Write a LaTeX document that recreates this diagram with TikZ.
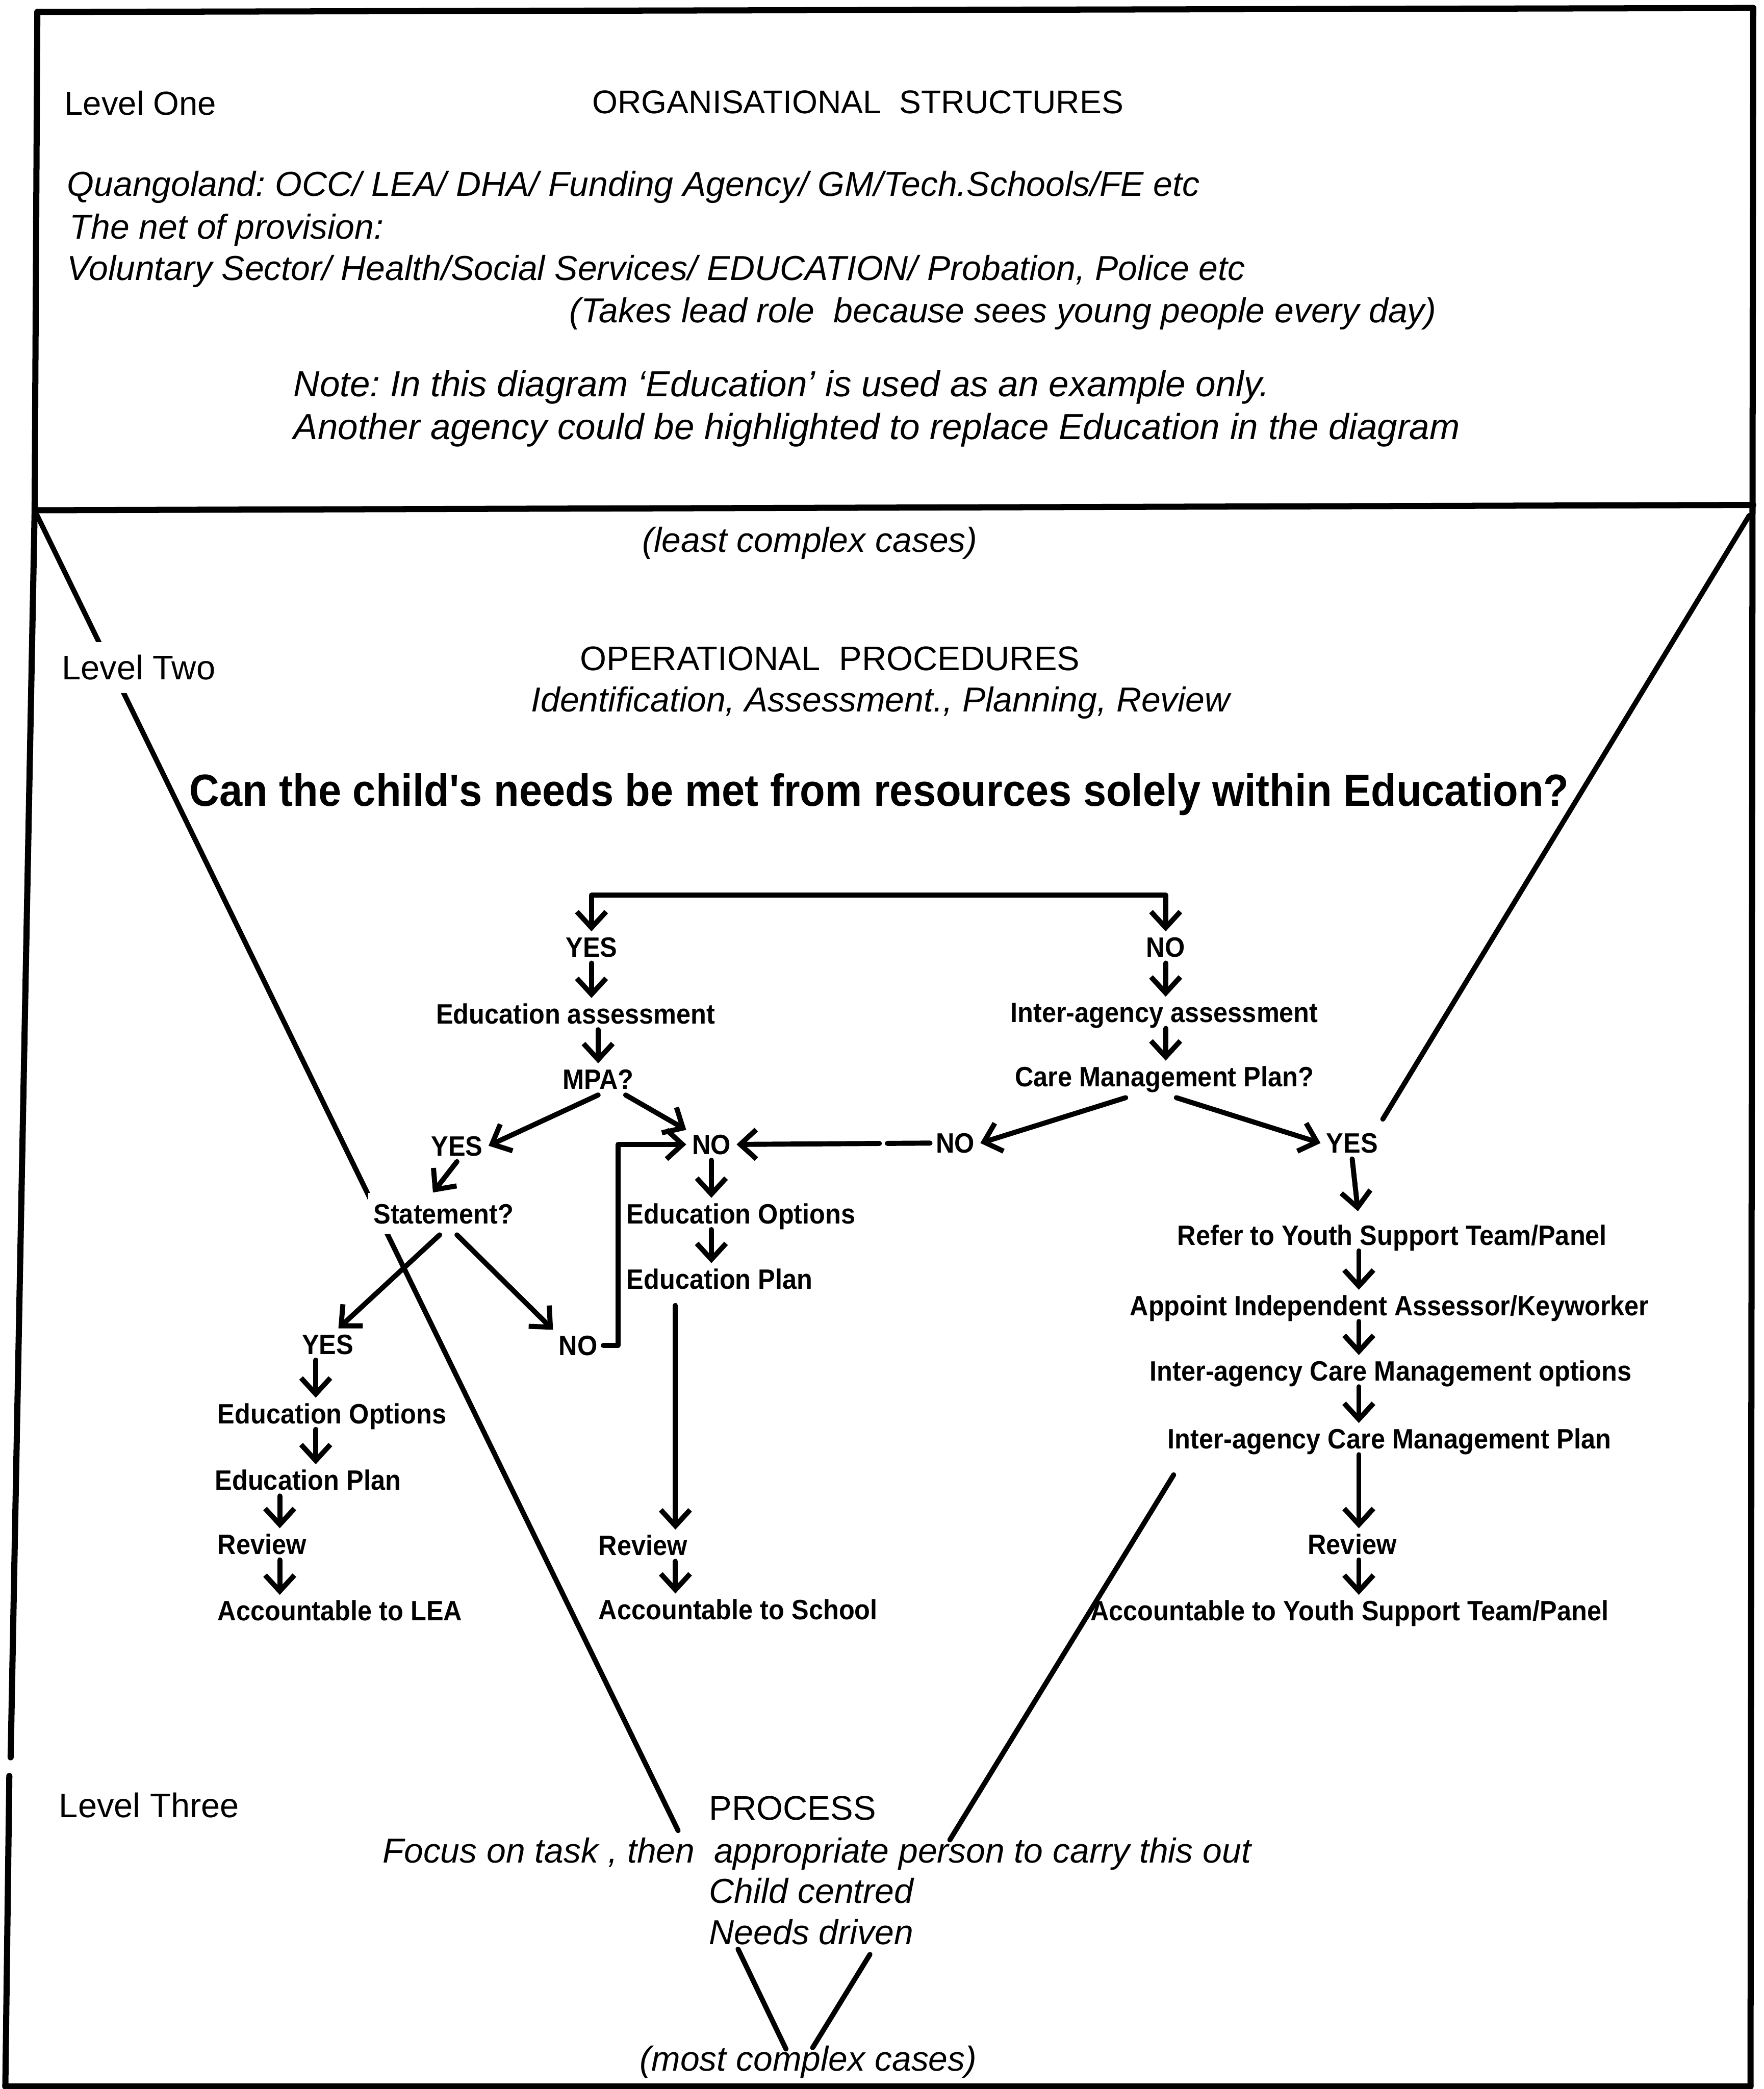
\documentclass[tikz,border=0pt]{standalone}
\usepackage{fontspec}
\setmainfont{Liberation Sans}
\newfontfamily\flowfont[FakeStretch=0.92]{Liberation Sans}
\usetikzlibrary{arrows.meta}
\frenchspacing

\begin{document}
\begin{tikzpicture}[x=0.5pt,y=-0.5pt,
  frameline/.style={line width=2.3pt, line cap=round},
  funnel/.style={line width=1.9pt, line cap=round},
  txhead/.style={font=\fontsize{12.8}{15}\selectfont, inner sep=0pt, text height=9.2pt, text depth=0pt, anchor=west},
  txital/.style={font=\fontsize{13}{15}\selectfont\itshape, inner sep=0pt, text height=9.3pt, text depth=0pt, anchor=west},
  txnote/.style={font=\fontsize{13.6}{16}\selectfont\itshape, inner sep=0pt, text height=9.8pt, text depth=0pt, anchor=west},
  txquest/.style={font=\flowfont\bfseries\fontsize{16.9}{20}\selectfont, inner sep=0pt, text height=12.1pt, text depth=0pt},
  flowtxt/.style={font=\flowfont\bfseries\fontsize{10.5}{12}\selectfont, inner sep=2pt, text height=7.5pt, text depth=0pt},
  arr/.style={line width=1.9pt, line cap=round, line join=round, -{Straight Barb[length=6pt,width=11pt]}},
  arrboth/.style={line width=1.9pt, line cap=round, line join=round, {Straight Barb[length=6pt,width=11pt]}-{Straight Barb[length=6pt,width=11pt]}}
]
\useasboundingbox (0,0) rectangle (1324,1568);

% outer frame and the band of level one
\coordinate (tl) at (28,9);
\coordinate (tr) at (1316,6);
\coordinate (ml) at (26,383);
\coordinate (mr) at (1316,379);
\coordinate (bl) at (4,1566);
\coordinate (br) at (1314,1566);
\coordinate (gapT) at (8,1319);
\coordinate (gapB) at (7,1333);
\draw[frameline] (tl) -- (tr);
\draw[frameline] (tl) -- (ml);
\draw[frameline] (ml) -- (mr);
\draw[frameline] (tr) -- (br);
\draw[frameline] (ml) -- (gapT);
\draw[frameline] (gapB) -- (bl);
\draw[frameline] (bl) -- (br);

% funnel from least to most complex cases
\coordinate (fLend) at (509,1374);
\coordinate (fRtop) at (1313,387);
\coordinate (fRend) at (1038,840);
\coordinate (fR2top) at (881,1107);
\coordinate (fR2end) at (713,1381);
\coordinate (vLtop) at (554,1463);
\coordinate (vLend) at (590,1538);
\coordinate (vRtop) at (653,1467);
\coordinate (vRend) at (610,1537);
\draw[funnel] (ml) -- (fLend);
\draw[funnel] (fRtop) -- (fRend);
\draw[funnel] (fR2top) -- (fR2end);
\draw[funnel] (vLtop) -- (vLend);
\draw[funnel] (vRtop) -- (vRend);

% level one
\node[txhead, font=\fontsize{12.5}{15}\selectfont] (lvl1) at (48,77) {Level One};
\node[txhead, anchor=center, font=\fontsize{12.3}{15}\selectfont] (org) at (644,76) {ORGANISATIONAL\ \ STRUCTURES};
\node[txital] (quango) at (50,138) {Quangoland: OCC/ LEA/ DHA/ Funding Agency/ GM/Tech.Schools/FE etc};
\node[txital] (net) at (52,170) {The net of provision:};
\node[txital] (vol) at (50,201) {Voluntary Sector/ Health/Social Services/ EDUCATION/ Probation, Police etc};
\node[txital] (lead) at (427,233) {(Takes lead role\ \ because sees young people every day)};
\node[txnote] (note1) at (220,288) {Note: In this diagram ‘Education’ is used as an example only.};
\node[txnote] (note2) at (220,320) {Another agency could be highlighted to replace Education in the diagram};

% level two
\node[txital, anchor=center] (least) at (608,405) {(least complex cases)};
\node[txhead, fill=white, inner ysep=5pt] (lvl2) at (46,501) {Level Two};
\node[txhead, anchor=center] (ops) at (623,494) {OPERATIONAL\ \ PROCEDURES};
\node[txital, anchor=center] (iapr) at (661,525) {Identification, Assessment., Planning, Review};
\node[txquest] (question) at (660,593) {Can the child's needs be met from resources solely within Education?};

% decision flow
\node[flowtxt] (yes1) at (444,711) {YES};
\node[flowtxt] (no1) at (875,711) {NO};
\node[flowtxt] (eduass) at (432,761) {Education assessment};
\node[flowtxt] (mpa) at (449,810) {MPA?};
\node[flowtxt] (iaa) at (874,760) {Inter-agency assessment};
\node[flowtxt] (cmp) at (874,808) {Care Management Plan?};
\node[flowtxt] (yes2) at (343,860) {YES};
\node[flowtxt] (no2) at (534,859) {NO};
\node[flowtxt] (no3) at (717,858) {NO};
\node[flowtxt] (yes3) at (1015,858) {YES};
\node[flowtxt, fill=white, inner ysep=4pt] (stmt) at (333,911) {Statement?};
\node[flowtxt, anchor=west] (eo1) at (466,911) {Education Options};
\node[flowtxt, anchor=west] (ep1) at (466,960) {Education Plan};
\node[flowtxt] (yes4) at (246,1009) {YES};
\node[flowtxt] (no4) at (434,1010) {NO};
\node[flowtxt, anchor=west] (eo2) at (159,1061) {Education Options};
\node[flowtxt, anchor=west] (ep2) at (157,1111) {Education Plan};
\node[flowtxt, anchor=west] (rev2) at (159,1159) {Review};
\node[flowtxt, anchor=west] (acc2) at (159,1209) {Accountable to LEA};
\node[flowtxt, anchor=west] (rev1) at (445,1160) {Review};
\node[flowtxt, anchor=west] (acc1) at (445,1208) {Accountable to School};
\node[flowtxt] (ref) at (1045,927) {Refer to Youth Support Team/Panel};
\node[flowtxt] (app) at (1043,980) {Appoint Independent Assessor/Keyworker};
\node[flowtxt] (iacmo) at (1044,1029) {Inter-agency Care Management options};
\node[flowtxt] (iacmp) at (1043,1080) {Inter-agency Care Management Plan};
\node[flowtxt] (rev3) at (1015,1159) {Review};
\node[flowtxt] (acc3) at (1013,1209) {Accountable to Youth Support Team/Panel};

% level three
\node[txhead] (lvl3) at (44,1355) {Level Three};
\node[txhead] (process) at (532,1357) {PROCESS};
\node[txital] (focus) at (287,1389) {Focus on task , then\ \ appropriate person to carry this out};
\node[txital] (child) at (532,1419) {Child centred};
\node[txital] (needs) at (532,1450) {Needs driven};
\node[txital] (most) at (480,1545) {(most complex cases)};

% connectors
\coordinate (bar) at (660,672);
\coordinate (elbow) at (464,1010);
\coordinate (colM) at (507,0);
\coordinate (colA) at (237,0);
\coordinate (colB) at (210,0);
\coordinate (colR) at (1020,0);

\draw[arrboth] (yes1.north) |- (bar) -| (no1.north);
\draw[arr] (yes1.south) -- (yes1.south |- eduass.north);
\draw[arr] (eduass.south -| mpa.north) -- (mpa.north);
\draw[arr] (no1.south) -- (no1.south |- iaa.north);
\draw[arr] (iaa.south -| no1.south) -- (cmp.north -| no1.south);
\draw[arr] (mpa.south) -- (yes2.east);
\draw[arr] (mpa) -- (no2);
\draw[arr] ([shift={(-29,4)}]cmp.south) -- (no3.east);
\draw[arr] ([shift={(9,4)}]cmp.south) -- (yes3.west);
\draw[arr, dash pattern=on 16pt off 3pt on 100pt] (no3.west) -- (no2.east);
\draw[arr] (yes2.south) -- ([shift={(-8,0)}]stmt.north);
\draw[arr] ([shift={(-3,0)}]stmt.south) -- ([shift={(8,0)}]yes4.north);
\draw[arr] ([shift={(10,0)}]stmt.south) -- (no4.north west);
\draw[arr] (no4.east) -- (no4.east -| elbow) |- (no2.west);
\draw[arr] (no2.south) -- (no2.south |- eo1.north);
\draw[arr] (eo1.south -| no2.south) -- (ep1.north -| no2.south);
\draw[arr, shorten <=4pt] (ep1.south -| colM) -- (rev1.north -| colM);
\draw[arr] (rev1.south -| colM) -- (acc1.north -| colM);
\draw[arr] (yes4.south -| colA) -- (eo2.north -| colA);
\draw[arr] (eo2.south -| colA) -- (ep2.north -| colA);
\draw[arr] (ep2.south -| colB) -- (rev2.north -| colB);
\draw[arr] (rev2.south -| colB) -- (acc2.north -| colB);
\draw[arr, shorten >=3pt] (yes3.south) -- (ref.north -| colR);
\draw[arr] (ref.south -| colR) -- (app.north -| colR);
\draw[arr] (app.south -| colR) -- (iacmo.north -| colR);
\draw[arr] (iacmo.south -| colR) -- (iacmp.north -| colR);
\draw[arr] (iacmp.south -| colR) -- (rev3.north -| colR);
\draw[arr] (rev3.south -| colR) -- (acc3.north -| colR);
\end{tikzpicture}
\end{document}
